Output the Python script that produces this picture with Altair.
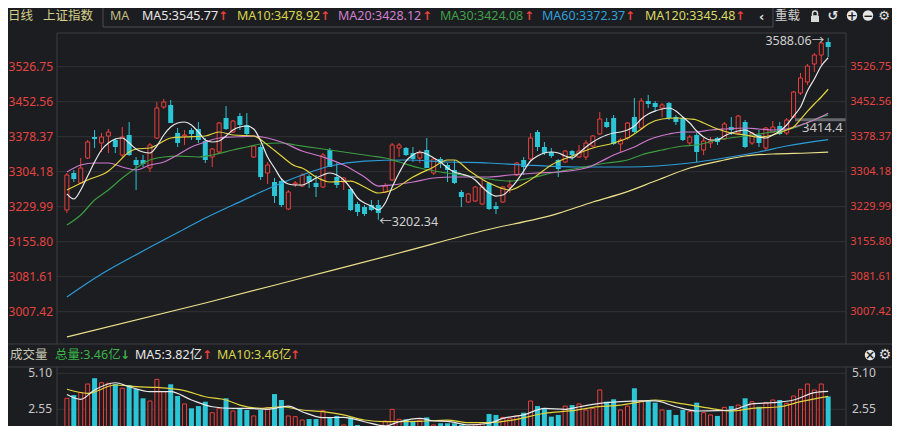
import altair as alt
import pandas as pd

# ------------------------------------------------------------------ data
price_ticks = [3007.42, 3081.61, 3155.80, 3229.99, 3304.18, 3378.37, 3452.56, 3526.75]
price_labels = ["3007.42", "3081.61", "3155.80", "3229.99", "3304.18", "3378.37", "3452.56", "3526.75"]
vol_ticks = [2.55, 5.10]
vol_labels = ["2.55", "5.10"]

day = list(range(1, 112))
open_ = [3223.0, 3301.4, 3280.2, 3333.2, 3377.7, 3365.0, 3379.8, 3371.4, 3339.6, 3382.0,
         3329.0, 3329.0, 3312.0, 3375.6, 3441.3, 3445.6, 3386.2, 3379.8, 3392.6, 3394.7,
         3369.2, 3335.3, 3345.9, 3418.0, 3388.3, 3422.2, 3403.2, 3335.3, 3356.5, 3301.4,
         3282.3, 3284.4, 3225.1, 3278.1, 3273.8, 3295.0, 3280.2, 3271.7, 3350.2, 3292.9,
         3282.3, 3267.5, 3235.7, 3229.3, 3233.6, 3233.6, 3261.1, 3286.6, 3354.4, 3354.4,
         3343.8, 3333.2, 3350.2, 3301.4, 3331.1, 3318.4, 3307.8, 3261.1, 3239.9, 3242.0,
         3235.7, 3280.2, 3231.4, 3239.9, 3271.7, 3297.2, 3329.0, 3331.1, 3388.3, 3356.5,
         3345.9, 3329.0, 3324.7, 3348.0, 3335.3, 3335.3, 3358.6, 3384.1, 3409.5, 3418.0,
         3362.9, 3375.6, 3420.1, 3396.8, 3454.0, 3449.8, 3439.2, 3449.8, 3420.1, 3418.0,
         3365.0, 3382.0, 3350.2, 3365.0, 3375.6, 3373.5, 3398.9, 3386.2, 3409.5, 3365.0,
         3382.0, 3354.4, 3388.3, 3401.0, 3386.2, 3420.1, 3471.0, 3494.3, 3532.5, 3551.5,
         3579.1]
close_ = [3297.2, 3288.7, 3312.0, 3367.1, 3373.5, 3377.7, 3388.3, 3356.5, 3377.7, 3339.6,
          3318.4, 3320.5, 3360.8, 3439.2, 3451.9, 3407.4, 3365.0, 3382.0, 3384.1, 3371.4,
          3329.0, 3352.3, 3407.4, 3394.7, 3411.6, 3403.2, 3384.1, 3358.6, 3292.9, 3318.4,
          3252.6, 3233.6, 3261.1, 3280.2, 3297.2, 3282.3, 3271.7, 3339.6, 3314.1, 3276.0,
          3290.8, 3223.0, 3218.7, 3214.5, 3223.0, 3216.6, 3273.8, 3360.8, 3360.8, 3339.6,
          3331.1, 3343.8, 3312.0, 3331.1, 3322.6, 3307.8, 3280.2, 3250.5, 3256.9, 3271.7,
          3271.7, 3225.1, 3225.1, 3271.7, 3276.0, 3322.6, 3314.1, 3375.6, 3356.5, 3343.8,
          3337.4, 3309.9, 3348.0, 3339.6, 3348.0, 3365.0, 3379.8, 3415.9, 3398.9, 3362.9,
          3371.4, 3407.4, 3388.3, 3454.0, 3447.7, 3441.3, 3445.6, 3418.0, 3409.5, 3371.4,
          3377.7, 3345.9, 3369.2, 3369.2, 3367.1, 3405.3, 3392.6, 3422.2, 3356.5, 3386.2,
          3365.0, 3396.8, 3398.9, 3384.1, 3413.8, 3473.1, 3502.8, 3528.2, 3551.5, 3577.0,
          3568.5]
high_ = [3301.4, 3307.8, 3333.2, 3371.4, 3392.6, 3386.2, 3394.7, 3375.6, 3398.9, 3409.5,
         3335.3, 3339.6, 3365.0, 3451.9, 3458.3, 3456.2, 3396.8, 3392.6, 3396.8, 3409.5,
         3375.6, 3354.4, 3409.5, 3443.4, 3413.8, 3428.6, 3428.6, 3360.8, 3360.8, 3324.7,
         3290.8, 3288.7, 3265.4, 3284.4, 3301.4, 3299.3, 3297.2, 3343.8, 3354.4, 3322.6,
         3292.9, 3269.6, 3239.9, 3233.6, 3244.2, 3244.2, 3280.2, 3365.0, 3365.0, 3356.5,
         3356.5, 3350.2, 3375.6, 3333.2, 3335.3, 3322.6, 3329.0, 3265.4, 3259.0, 3273.8,
         3286.6, 3282.3, 3239.9, 3273.8, 3286.6, 3324.7, 3335.3, 3386.2, 3392.6, 3367.1,
         3354.4, 3331.1, 3350.2, 3350.2, 3360.8, 3371.4, 3382.0, 3430.7, 3418.0, 3424.4,
         3375.6, 3409.5, 3460.4, 3460.4, 3466.8, 3454.0, 3449.8, 3451.9, 3424.4, 3420.1,
         3382.0, 3386.2, 3375.6, 3377.7, 3377.7, 3409.5, 3420.1, 3424.4, 3413.8, 3388.3,
         3392.6, 3398.9, 3411.6, 3409.5, 3418.0, 3475.2, 3513.4, 3532.5, 3555.8, 3579.1,
         3588.06]
low_ = [3216.6, 3282.3, 3278.1, 3331.1, 3354.4, 3345.9, 3343.8, 3343.8, 3335.3, 3337.4,
        3265.4, 3314.1, 3303.5, 3373.5, 3437.1, 3407.4, 3356.5, 3360.8, 3371.4, 3365.0,
        3322.6, 3314.1, 3343.8, 3392.6, 3386.2, 3392.6, 3379.8, 3333.2, 3286.6, 3278.1,
        3237.8, 3229.3, 3223.0, 3271.7, 3271.7, 3269.6, 3250.5, 3269.6, 3314.1, 3269.6,
        3265.4, 3220.8, 3210.2, 3210.2, 3220.8, 3202.34, 3259.0, 3284.4, 3335.3, 3337.4,
        3324.7, 3322.6, 3312.0, 3297.2, 3312.0, 3282.3, 3278.1, 3229.3, 3237.8, 3239.9,
        3233.6, 3223.0, 3214.5, 3237.8, 3259.0, 3295.0, 3297.2, 3329.0, 3348.0, 3339.6,
        3333.2, 3292.9, 3322.6, 3329.0, 3333.2, 3329.0, 3356.5, 3382.0, 3396.8, 3360.8,
        3345.9, 3371.4, 3386.2, 3392.6, 3439.2, 3430.7, 3420.1, 3413.8, 3403.2, 3369.2,
        3360.8, 3324.7, 3339.6, 3354.4, 3360.8, 3371.4, 3382.0, 3382.0, 3354.4, 3360.8,
        3356.5, 3350.2, 3386.2, 3382.0, 3382.0, 3418.0, 3466.8, 3488.0, 3515.5, 3530.3,
        3547.3]
volume = [3.33, 3.56, 3.73, 4.34, 4.75, 4.43, 4.39, 4.34, 4.04, 4.27,
          3.99, 3.33, 3.14, 4.67, 3.80, 4.32, 3.49, 2.93, 2.62, 2.78,
          3.09, 2.31, 2.62, 3.33, 2.43, 2.62, 2.50, 2.08, 2.50, 2.66,
          3.63, 3.21, 2.08, 2.03, 1.79, 1.86, 1.86, 2.45, 1.96, 2.08,
          1.44, 1.98, 1.44, 1.28, 1.25, 1.32, 1.72, 2.55, 1.84, 1.84,
          1.72, 1.79, 1.98, 1.44, 1.56, 1.56, 1.56, 1.44, 1.20, 1.44,
          1.60, 2.22, 2.15, 1.98, 1.91, 2.08, 2.31, 3.14, 2.78, 2.62,
          2.03, 2.15, 2.78, 2.85, 2.93, 2.50, 2.62, 3.92, 3.09, 3.26,
          2.50, 2.78, 4.04, 3.16, 3.21, 3.02, 2.50, 2.50, 2.15, 2.50,
          2.38, 3.02, 2.31, 2.15, 2.08, 2.69, 2.78, 2.85, 3.33, 3.09,
          2.73, 3.02, 3.21, 3.21, 2.97, 3.49, 3.97, 4.34, 3.92, 4.34,
          3.46]

ma5_day = list(range(1, 112))
ma5 = [3257.0, 3246.3, 3265.4, 3295.0, 3324.7, 3350.2, 3365.0, 3373.5, 3375.6, 3365.0,
       3352.3, 3345.9, 3343.8, 3358.6, 3382.0, 3398.9, 3407.4, 3409.5, 3403.2, 3388.3,
       3371.4, 3367.1, 3369.2, 3379.8, 3392.6, 3398.9, 3401.0, 3394.7, 3369.2, 3335.3,
       3312.0, 3288.7, 3278.1, 3276.0, 3276.0, 3282.3, 3290.8, 3297.2, 3301.4, 3297.2,
       3286.6, 3269.6, 3248.4, 3237.8, 3231.4, 3223.0, 3237.8, 3271.7, 3301.4, 3326.8,
       3339.6, 3345.9, 3341.7, 3333.2, 3324.7, 3312.0, 3303.5, 3299.3, 3295.0, 3286.6,
       3271.7, 3259.0, 3252.6, 3254.8, 3267.5, 3284.4, 3305.6, 3326.8, 3337.4, 3343.8,
       3345.9, 3343.8, 3337.4, 3333.2, 3343.8, 3356.5, 3367.1, 3375.6, 3382.0, 3386.2,
       3388.3, 3392.6, 3401.0, 3415.9, 3426.5, 3432.8, 3437.1, 3439.2, 3432.8, 3420.1,
       3407.4, 3390.4, 3377.7, 3371.4, 3371.4, 3379.8, 3386.2, 3390.4, 3392.6, 3386.2,
       3377.7, 3375.6, 3382.0, 3390.4, 3403.2, 3422.2, 3441.3, 3475.2, 3500.7, 3528.2,
       3545.77]
ma10_day = [1, 4, 7, 8, 10, 11, 13, 14, 16, 18, 21, 23, 25, 28, 30, 32, 34, 35, 37, 39,
            42, 44, 46, 48, 51, 54, 56, 57, 59, 62, 65, 67, 69, 71, 74, 77, 80, 82, 84, 85,
            87, 89, 91, 92, 93, 95, 97, 99, 101, 103, 105, 106, 107, 108, 109, 110, 111]
ma10 = [3265.4, 3286.6, 3305.6, 3318.4, 3345.9, 3352.3, 3354.4, 3360.8, 3375.6, 3377.7,
        3379.8, 3388.3, 3382.0, 3379.8, 3360.8, 3337.4, 3316.2, 3312.0, 3292.9, 3282.3,
        3284.4, 3271.7, 3259.0, 3265.4, 3292.9, 3314.1, 3329.0, 3329.0, 3307.8, 3280.2,
        3265.4, 3278.1, 3297.2, 3318.4, 3337.4, 3354.4, 3365.0, 3375.6, 3394.7, 3405.3,
        3415.9, 3418.0, 3415.9, 3413.8, 3407.4, 3394.7, 3386.2, 3382.0, 3377.7, 3382.0,
        3392.6, 3398.9, 3415.0, 3432.0, 3447.7, 3462.5, 3478.92]
ma20_day = [1, 3, 5, 7, 9, 11, 13, 15, 17, 19, 21, 23, 25, 28, 30, 32, 35, 38, 41, 44,
            46, 48, 51, 54, 57, 62, 65, 69, 72, 76, 78, 80, 83, 85, 88, 90, 92, 94, 96, 99,
            101, 103, 105, 107, 109, 111]
ma20 = [3303.5, 3318.4, 3322.6, 3322.6, 3314.1, 3307.8, 3318.4, 3324.7, 3339.6, 3356.5,
        3367.1, 3375.6, 3377.7, 3379.8, 3375.6, 3367.1, 3348.0, 3335.3, 3318.4, 3292.9,
        3273.8, 3276.0, 3282.3, 3290.8, 3292.9, 3292.9, 3297.2, 3301.4, 3303.5, 3312.0,
        3324.7, 3339.6, 3356.5, 3371.4, 3384.1, 3388.3, 3388.3, 3392.6, 3394.7, 3396.8,
        3394.7, 3392.6, 3394.7, 3403.2, 3413.8, 3428.12]
ma30_day = [1, 3, 5, 7, 9, 11, 13, 15, 17, 20, 22, 25, 27, 29, 32, 34, 37, 42, 45, 47,
            49, 52, 55, 58, 61, 65, 68, 71, 75, 79, 82, 84, 87, 90, 92, 95, 99, 102, 106, 110,
            111]
ma30 = [3191.2, 3212.4, 3244.2, 3265.4, 3290.8, 3312.0, 3329.0, 3335.3, 3337.4, 3335.3,
        3339.6, 3350.2, 3356.5, 3362.9, 3365.0, 3360.8, 3354.4, 3343.8, 3337.4, 3333.2,
        3324.7, 3312.0, 3303.5, 3297.2, 3290.8, 3284.4, 3290.8, 3301.4, 3312.0, 3322.6,
        3329.0, 3339.6, 3350.2, 3358.6, 3360.8, 3371.4, 3379.8, 3386.2, 3396.8, 3420.1,
        3424.08]
ma60_day = [1, 6, 12, 18, 21, 25, 30, 35, 39, 44, 50, 56, 62, 67, 75, 82, 91, 96, 101, 105, 111]
ma60 = [3038.6, 3087.3, 3136.1, 3182.7, 3206.0, 3233.6, 3267.5, 3297.2, 3316.2, 3326.8,
        3329.0, 3324.7, 3322.6, 3318.4, 3314.1, 3314.1, 3322.6, 3333.2, 3345.9, 3358.6,
        3372.37]
ma120_day = [1, 21, 35, 49, 61, 72, 77, 82, 86, 91, 96, 99, 103, 108, 111]
ma120 = [2953.8, 3025.9, 3078.8, 3131.8, 3178.5, 3216.0, 3240.0, 3262.0, 3284.4, 3312.0,
         3329.0, 3337.4, 3341.7, 3343.8, 3345.48]

vma5_day = [1, 3, 5, 8, 10, 13, 16, 19, 22, 25, 27, 30, 33, 35, 38, 41, 44, 47, 49, 52,
            54, 56, 59, 62, 64, 67, 70, 73, 75, 78, 81, 84, 86, 89, 92, 95, 97, 100, 103, 106,
            109, 111]
vma5 = [3.60, 3.26, 3.92, 4.43, 4.15, 3.80, 3.80, 3.21, 2.73, 2.62,
        2.62, 2.55, 2.78, 2.38, 1.96, 1.98, 1.67, 1.37, 1.67, 1.91,
        1.72, 1.70, 1.44, 1.56, 1.91, 2.15, 2.62, 2.55, 2.73, 2.97,
        3.09, 3.14, 3.14, 2.73, 2.43, 2.45, 2.50, 2.93, 3.02, 3.21,
        3.73, 3.82]
vma10_day = [1, 4, 8, 11, 14, 18, 21, 24, 26, 29, 32, 35, 38, 41, 44, 47, 52, 56, 59, 62,
             66, 70, 74, 77, 81, 84, 86, 90, 94, 97, 100, 104, 107, 111]
vma10 = [3.97, 3.68, 4.27, 4.15, 4.10, 3.87, 3.44, 3.21, 2.85, 2.62,
         2.73, 2.50, 2.38, 2.15, 1.79, 1.67, 1.70, 1.78, 1.60, 1.60,
         1.84, 2.27, 2.45, 2.69, 2.85, 3.09, 3.21, 2.93, 2.62, 2.43,
         2.62, 2.73, 3.09, 3.46]

hi_day, hi_val = 111, 3588.06
lo_day, lo_val = 46, 3202.34
mark_val = 3414.4

# ------------------------------------------------------------------ style
BG = "#1c1d21"
RED = "#ea3f3c"
CYAN = "#2cc5d6"
AXRED = "#e5443f"
GRID = "#303136"
FRAME = "#3c3d42"
FONT = "Noto Sans, Noto Sans CJK SC, DejaVu Sans, sans-serif"
C_MA5, C_MA10, C_MA20 = "#e8e8e8", "#e2d43c", "#cc78cc"
C_MA30, C_MA60, C_MA120 = "#3c9c40", "#2b9cd8", "#ece08a"

W, H = 884, 418
# x: candle n sits at 47.5 + 7 n px ; price: 3526.75 at 58.7 px, 74.19 per 35 px
XS = alt.Scale(domain=[-47.5 / 7, (W - 47.5) / 7], nice=False, zero=False)
PPX = 74.19 / 35
PY = alt.Scale(domain=[3526.75 - (H - 58.7) * PPX, 3526.75 + 58.7 * PPX], nice=False, zero=False)
VPX = 2.55 / 36
VY = alt.Scale(domain=[2.55 - (H - 401.3) * VPX, 2.55 + 401.3 * VPX], nice=False, zero=False)

ONE = pd.DataFrame({"k": [0]})

df = pd.DataFrame({"day": day, "open": open_, "close": close_, "high": high_,
                   "low": low_, "vol": volume})


def X():
    return alt.X("day:Q", scale=XS, axis=None)


def T(s, x, y, color, size=12.5, align="left", weight="normal", font=FONT):
    return alt.Chart(ONE).mark_text(text=s, align=align, baseline="middle", color=color,
                                    fontSize=size, fontWeight=weight, font=font).encode(
        x=alt.value(x), y=alt.value(y))


def R(x1, y1, x2, y2, color=FRAME, w=1):
    return alt.Chart(ONE).mark_rule(color=color, strokeWidth=w).encode(
        x=alt.value(x1), x2=alt.value(x2), y=alt.value(y1), y2=alt.value(y2))


def ma_line(days, vals, color, scale, w=1.2):
    d = pd.DataFrame({"day": days, "v": vals})
    return alt.Chart(d).mark_line(color=color, strokeWidth=w, interpolate="monotone").encode(
        x=X(), y=alt.Y("v:Q", scale=scale, axis=None))


layers = []

# grid + axis labels (main)
pt = pd.DataFrame({"v": price_ticks, "t": price_labels})
layers.append(alt.Chart(pt).mark_rule(color=GRID, strokeWidth=1).encode(
    y=alt.Y("v:Q", scale=PY, axis=None), x=alt.value(49), x2=alt.value(838)))
layers.append(alt.Chart(pt).mark_text(align="right", baseline="middle", color=AXRED,
                                      fontSize=12, font=FONT).encode(
    y=alt.Y("v:Q", scale=PY, axis=None), x=alt.value(45), text="t:N"))
layers.append(alt.Chart(pt).mark_text(align="right", baseline="middle", color=AXRED,
                                      fontSize=11, font=FONT).encode(
    y=alt.Y("v:Q", scale=PY, axis=None), x=alt.value(883), text="t:N"))

# marker line 3414.4
mk = pd.DataFrame({"v": [mark_val], "t": [str(mark_val)]})
layers.append(alt.Chart(mk).mark_rule(color="#66676c", strokeWidth=3).encode(
    y=alt.Y("v:Q", scale=PY, axis=None), x=alt.value(787), x2=alt.value(838)))
layers.append(alt.Chart(mk).mark_text(align="left", baseline="middle", color="#c8c8c8",
                                      fontSize=13, font=FONT, dy=8).encode(
    y=alt.Y("v:Q", scale=PY, axis=None), x=alt.value(794), text="t:N"))

# candles
up = "datum.close >= datum.open"
dn = "datum.close < datum.open"
layers.append(alt.Chart(df).transform_filter(up).mark_rule(color=RED, strokeWidth=1).encode(
    x=X(), y=alt.Y("low:Q", scale=PY, axis=None), y2="high:Q"))
layers.append(alt.Chart(df).transform_filter(dn).mark_rule(color=CYAN, strokeWidth=1).encode(
    x=X(), y=alt.Y("low:Q", scale=PY, axis=None), y2="high:Q"))
layers.append(alt.Chart(df).transform_filter(up).mark_bar(size=4, fill=BG, stroke=RED,
                                                          strokeWidth=1).encode(
    x=X(), y=alt.Y("open:Q", scale=PY, axis=None), y2="close:Q"))
layers.append(alt.Chart(df).transform_filter(dn).mark_bar(size=5, color=CYAN).encode(
    x=X(), y=alt.Y("open:Q", scale=PY, axis=None), y2="close:Q"))

# moving averages
layers.append(ma_line(ma120_day, ma120, C_MA120, PY))
layers.append(ma_line(ma60_day, ma60, C_MA60, PY))
layers.append(ma_line(ma30_day, ma30, C_MA30, PY))
layers.append(ma_line(ma20_day, ma20, C_MA20, PY))
layers.append(ma_line(ma10_day, ma10, C_MA10, PY))
layers.append(ma_line(ma5_day, ma5, C_MA5, PY))

# high / low annotations
hl = pd.DataFrame({"day": [hi_day], "v": [hi_val], "t": [f"{hi_val:.2f}→"]})
layers.append(alt.Chart(hl).mark_text(align="right", baseline="middle", color="#d0d0d0",
                                      fontSize=12.5, font=FONT, dx=-4, dy=3).encode(
    x=X(), y=alt.Y("v:Q", scale=PY, axis=None), text="t:N"))
ll = pd.DataFrame({"day": [lo_day], "v": [lo_val], "t": [f"←{lo_val:.2f}"]})
layers.append(alt.Chart(ll).mark_text(align="left", baseline="middle", color="#d0d0d0",
                                      fontSize=12.5, font=FONT, dx=1, dy=2).encode(
    x=X(), y=alt.Y("v:Q", scale=PY, axis=None), text="t:N"))

# volume panel
vt = pd.DataFrame({"v": vol_ticks, "t": vol_labels})
layers.append(alt.Chart(vt).mark_rule(color=GRID, strokeWidth=1).encode(
    y=alt.Y("v:Q", scale=VY, axis=None), x=alt.value(49), x2=alt.value(838)))
layers.append(alt.Chart(vt).mark_text(align="right", baseline="middle", color="#c8c8c8",
                                      fontSize=12, font=FONT).encode(
    y=alt.Y("v:Q", scale=VY, axis=None), x=alt.value(44), text="t:N"))
layers.append(alt.Chart(vt).mark_text(align="left", baseline="middle", color="#c8c8c8",
                                      fontSize=12, font=FONT).encode(
    y=alt.Y("v:Q", scale=VY, axis=None), x=alt.value(844), text="t:N"))
layers.append(alt.Chart(df).transform_filter(up).mark_bar(size=4, fill=BG, stroke=RED,
                                                          strokeWidth=1).encode(
    x=X(), y=alt.Y("vol:Q", scale=VY, axis=None)))
layers.append(alt.Chart(df).transform_filter(dn).mark_bar(size=5, color=CYAN).encode(
    x=X(), y=alt.Y("vol:Q", scale=VY, axis=None)))
layers.append(ma_line(vma10_day, vma10, C_MA10, VY))
layers.append(ma_line(vma5_day, vma5, C_MA5, VY))

# frames
layers += [
    R(49, 25, 838, 25), R(49, 25, 49, 336), R(838, 25, 838, 336),
    R(0, 336, W, 336), R(0, 359, W, 359),
    R(49, 359, 49, H), R(838, 359, 838, H),
]
layers.append(alt.Chart(ONE).mark_rect(fillOpacity=0, stroke="#4a4b50", strokeWidth=1).encode(
    x=alt.value(95), x2=alt.value(765), y=alt.value(-6), y2=alt.value(19)))

# header row
HY = 7.5
ARW = "DejaVu Sans"
layers += [
    T("日线", 0, HY, "#d6d08c"),
    T("上证指数", 35, HY, "#d6d08c"),
    T("MA", 102, HY, "#bdbd83"),
    T("MA5:3545.77", 134, HY, "#e8e8e8"),
    T("↑", 210, HY, RED, 12, weight="bold", font=ARW),
    T("MA10:3478.92", 229, HY, "#d8d548"),
    T("↑", 312, HY, RED, 12, weight="bold", font=ARW),
    T("MA20:3428.12", 330, HY, "#cf7fcf"),
    T("↑", 414, HY, RED, 12, weight="bold", font=ARW),
    T("MA30:3424.08", 432, HY, "#3fa048"),
    T("↑", 516, HY, RED, 12, weight="bold", font=ARW),
    T("MA60:3372.37", 534, HY, "#2f9fd8"),
    T("↑", 617, HY, RED, 12, weight="bold", font=ARW),
    T("MA120:3345.48", 637, HY, "#d9d964"),
    T("↑", 727, HY, RED, 12, weight="bold", font=ARW),
    T("‹", 751, 8.5, "#e0e0e0", 13, weight="bold", font=ARW),
    T("重载", 767, HY, "#d0d0d0"),
    T("↺", 825, HY, "#e0e0e0", 13, align="center", weight="bold", font=ARW),
    T("⚙", 876, HY, "#e0e0e0", 13, align="center", font=ARW),
]
layers.append(alt.Chart(ONE).mark_rect(color="#d8d8d8").encode(
    x=alt.value(803), x2=alt.value(811), y=alt.value(8), y2=alt.value(14)))
layers.append(alt.Chart(ONE).mark_rect(fillOpacity=0, stroke="#d8d8d8", strokeWidth=1.5,
                                       cornerRadiusTopLeft=3, cornerRadiusTopRight=3).encode(
    x=alt.value(804.5), x2=alt.value(809.5), y=alt.value(3), y2=alt.value(8)))
for cx, sym in [(844, "+"), (860, "−")]:
    layers.append(alt.Chart(ONE).mark_point(filled=True, shape="circle", size=110,
                                            color="#e6e6e6", opacity=1).encode(
        x=alt.value(cx), y=alt.value(HY)))
    layers.append(T(sym, cx, HY, BG, 12, align="center", weight="bold", font=ARW))

# volume header row
VH = 347
layers += [
    T("成交量", 2, VH, "#c6c6b2"),
    T("总量:3.46亿", 47, VH, "#3bb34a"),
    T("↓", 112, VH, "#3bb34a", 12, weight="bold", font=ARW),
    T("MA5:3.82亿", 127, VH, "#e8e8e8"),
    T("↑", 194, VH, RED, 12, weight="bold", font=ARW),
    T("MA10:3.46亿", 209, VH, "#d8d548"),
    T("↑", 282, VH, RED, 12, weight="bold", font=ARW),
]
layers.append(alt.Chart(ONE).mark_point(filled=True, shape="circle", size=110,
                                        color="#e6e6e6", opacity=1).encode(
    x=alt.value(862), y=alt.value(VH)))
layers.append(T("×", 862, VH, BG, 12, align="center", weight="bold", font=ARW))
layers.append(T("⚙", 877, VH, "#e0e0e0", 14, align="center", font=ARW))

chart = alt.layer(*layers).resolve_scale(y="independent").properties(
    width=W, height=H, autosize=alt.AutoSizeParams(type="none"), padding=0,
    background=BG).configure_view(strokeWidth=0)

chart.save("out.html", embed_options={"renderer": "svg", "actions": False})
